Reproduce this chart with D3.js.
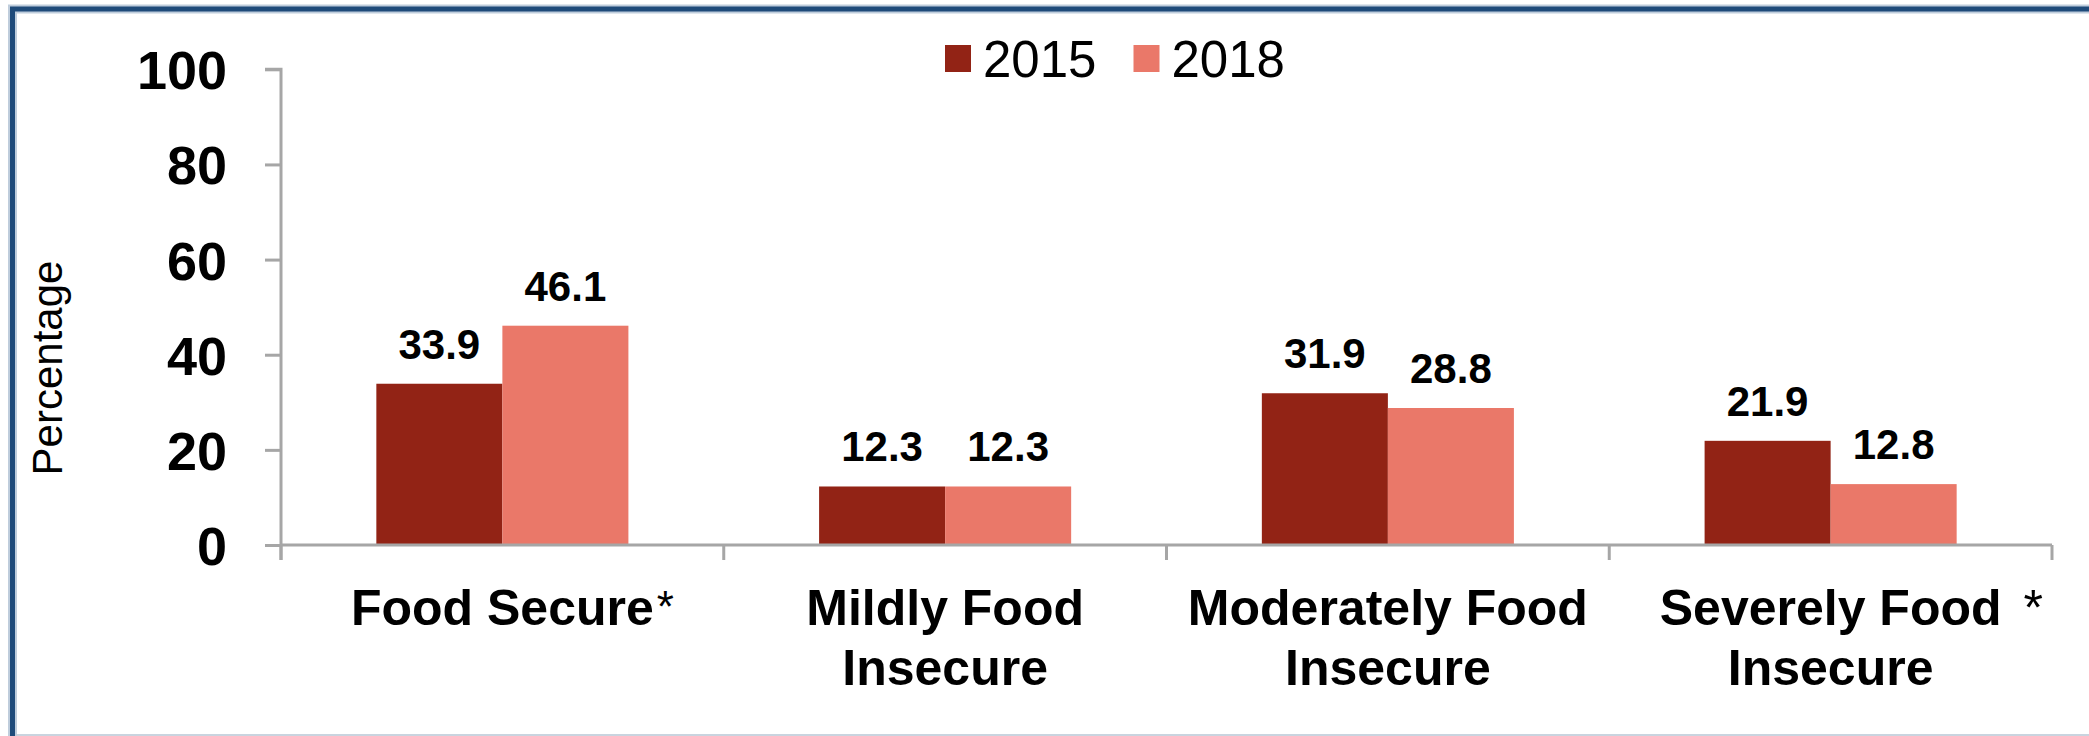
<!DOCTYPE html>
<html>
<head>
<meta charset="utf-8">
<script src="https://cdn.jsdelivr.net/npm/d3@7"></script>
<style>
  html, body { margin: 0; padding: 0; background: #ffffff; }
  svg { display: block; }
  text { font-family: "Liberation Sans", Arial, Helvetica, sans-serif; fill: #000; }
</style>
</head>
<body>
<svg id="chart" width="2089" height="736"></svg>
<script>
// ---- data ----
const categories = ["Food Secure", "Mildly Food Insecure", "Moderately Food Insecure", "Severely Food Insecure"];
const labelLines = [["Food Secure"], ["Mildly Food", "Insecure"], ["Moderately Food", "Insecure"], ["Severely Food", "Insecure"]];
const significance = ["*", "", "", "*"];
const seriesNames = ["2015", "2018"];
const values2015 = [33.9, 12.3, 31.9, 21.9];
const values2018 = [46.1, 12.3, 28.8, 12.8];
const yTicks = [0, 20, 40, 60, 80, 100];
const yTitle = "Percentage";

// ---- layout ----
const W = 2089, H = 736;
const plot = { left: 281, right: 2052, top: 69.3, bottom: 545 };
const colors = { "2015": "#922315", "2018": "#EA7869" };
const axisColor = "#A6A6A6";

const svg = d3.select("#chart");

// frame
svg.append("rect").attr("x", 0).attr("y", 0).attr("width", W).attr("height", H).attr("fill", "#fff");
svg.append("line").attr("x1", 8).attr("x2", W).attr("y1", 735).attr("y2", 735)
  .attr("stroke", "#C9D4DF").attr("stroke-width", 2);
svg.append("path").attr("d", `M12.5,${H} V9 H${W}`).attr("fill", "none")
  .attr("stroke", "#BFCDDC").attr("stroke-width", 9);
svg.append("path").attr("d", `M12.5,${H} V9 H${W}`).attr("fill", "none")
  .attr("stroke", "#1F4B7A").attr("stroke-width", 5);

const data = categories.map((c, i) => ({ cat: c, i, vals: [
  { key: "2015", v: values2015[i] }, { key: "2018", v: values2018[i] } ] }));

const x0 = d3.scaleBand().domain(categories).range([plot.left, plot.right]).padding(0);
const groupFrac = 0.5693;
const x1 = d3.scaleBand().domain(seriesNames)
  .range([x0.bandwidth() * (1 - groupFrac) / 2, x0.bandwidth() * (1 + groupFrac) / 2]).padding(0);
const y = d3.scaleLinear().domain([0, 100]).range([plot.bottom, plot.top]);

// bars
const groups = svg.append("g").selectAll("g").data(data).join("g")
  .attr("transform", d => `translate(${x0(d.cat)},0)`);
groups.selectAll("rect").data(d => d.vals).join("rect")
  .attr("x", d => x1(d.key)).attr("width", x1.bandwidth())
  .attr("y", d => y(d.v)).attr("height", d => y(0) - y(d.v))
  .attr("fill", d => colors[d.key]);
groups.selectAll("text.val").data(d => d.vals).join("text").attr("class", "val")
  .attr("x", d => x1(d.key) + x1.bandwidth() / 2)
  .attr("y", d => y(d.v) - 25)
  .attr("text-anchor", "middle").attr("font-weight", "bold").attr("font-size", 42)
  .text(d => d.v.toFixed(1));

// y axis
const yAxis = svg.append("g").attr("transform", `translate(${plot.left},0)`)
  .call(d3.axisLeft(y).tickValues(yTicks).tickSize(16).tickPadding(38).tickFormat(d3.format("d")));
yAxis.select(".domain").attr("d", `M-16,${y(100)}H0V${plot.bottom + 15}`)
  .attr("stroke", axisColor).attr("stroke-width", 3).attr("fill", "none");
yAxis.selectAll(".tick line").attr("stroke", axisColor).attr("stroke-width", 3);
yAxis.selectAll(".tick text").attr("font-size", 54).attr("font-weight", "bold")
  .attr("fill", "#000").attr("font-family", "'Liberation Sans', Arial, sans-serif")
  .attr("dy", "0.36em");

// x axis
const xAxis = svg.append("g").attr("transform", `translate(0,${plot.bottom})`)
  .call(d3.axisBottom(x0).tickSize(0).tickFormat(""));
xAxis.select(".domain").attr("d", `M${plot.left},0H${plot.right}`)
  .attr("stroke", axisColor).attr("stroke-width", 3).attr("fill", "none");
const boundaries = categories.map(c => x0(c)).concat([x0.range()[1]]);
xAxis.selectAll("line.bound").data(boundaries).join("line").attr("class", "bound")
  .attr("x1", d => d).attr("x2", d => d).attr("y1", 0).attr("y2", 15)
  .attr("stroke", axisColor).attr("stroke-width", 3);

// category labels
const catLabels = svg.append("g").selectAll("g").data(data).join("g")
  .attr("transform", d => `translate(${x0(d.cat) + x0.bandwidth() / 2},${plot.bottom})`);
catLabels.each(function(d) {
  const g = d3.select(this);
  const lines = labelLines[d.i];
  let firstLine = null;
  lines.forEach((ln, k) => {
    const t = g.append("text").attr("x", 0).attr("y", 80 + k * 60)
      .attr("text-anchor", "middle").attr("font-weight", "bold").attr("font-size", 50).text(ln);
    if (k === 0) firstLine = t;
  });
  if (significance[d.i]) {
    const w = firstLine.node().getComputedTextLength();
    const single = lines.length === 1;
    g.append("text").attr("x", w / 2 + (single ? 3 : 22)).attr("y", single ? 77 : 80)
      .attr("font-size", single ? 44 : 50).text(significance[d.i]);
  }
});

// y title
svg.append("text")
  .attr("transform", `translate(62,368) rotate(-90)`)
  .attr("text-anchor", "middle").attr("font-size", 42).text(yTitle);

// legend
const legend = svg.append("g").attr("transform", "translate(945,45)");
const li = legend.selectAll("g").data(seriesNames).join("g")
  .attr("transform", (d, i) => `translate(${i * 188.5},0)`);
li.append("rect").attr("width", 26).attr("height", 27).attr("fill", d => colors[d]);
li.append("text").attr("x", 38).attr("y", 32).attr("font-size", 51).text(d => d);
</script>
</body>
</html>
